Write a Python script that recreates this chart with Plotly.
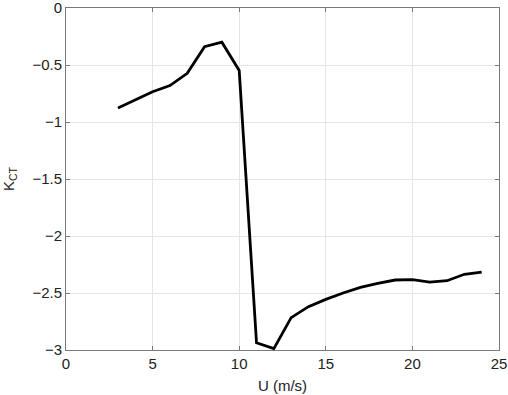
import plotly.graph_objects as go

wind_speed = [3, 4, 5, 6, 7, 8, 9, 10, 11, 12, 13, 14, 15, 16, 17, 18, 19, 20, 21, 22, 23, 24]
k_ct = [-0.877, -0.807, -0.734, -0.68, -0.573, -0.339, -0.30, -0.548,
        -2.936, -2.988, -2.716, -2.62, -2.556, -2.50, -2.45, -2.415,
        -2.386, -2.383, -2.404, -2.392, -2.336, -2.316]
x_ticks = [0, 5, 10, 15, 20, 25]
y_ticks = [0, -0.5, -1, -1.5, -2, -2.5, -3]

fig = go.Figure()
fig.add_trace(go.Scatter(x=wind_speed, y=k_ct, mode="lines",
                         line=dict(color="black", width=2.8), showlegend=False))

axis_common = dict(
    showgrid=True, gridcolor="#e5e5e5", gridwidth=1,
    showline=True, linecolor="#7a7a7a", linewidth=1, mirror="ticks",
    ticks="inside", ticklen=4, tickcolor="#7a7a7a",
    zeroline=False, automargin=False, ticklabeloverflow="allow",
    tickfont=dict(family="Liberation Sans, Arial, sans-serif", size=15, color="#222"),
)

fig.update_layout(
    width=508, height=395,
    margin=dict(l=66, r=9, t=8, b=45),
    plot_bgcolor="white", paper_bgcolor="white",
    font=dict(family="Liberation Sans, Arial, sans-serif", color="#222"),
    xaxis=dict(range=[0, 25], tickvals=x_ticks,
               title=dict(text="U (m/s)", font=dict(size=15), standoff=9), **axis_common),
    yaxis=dict(range=[-3, 0], tickvals=y_ticks,
               title=dict(text="K<sub>CT</sub>", font=dict(size=15), standoff=14), **axis_common),
)

fig.write_html("out.html", config={"displayModeBar": False},
               post_script="document.body.style.margin='0';document.body.style.padding='0';")
